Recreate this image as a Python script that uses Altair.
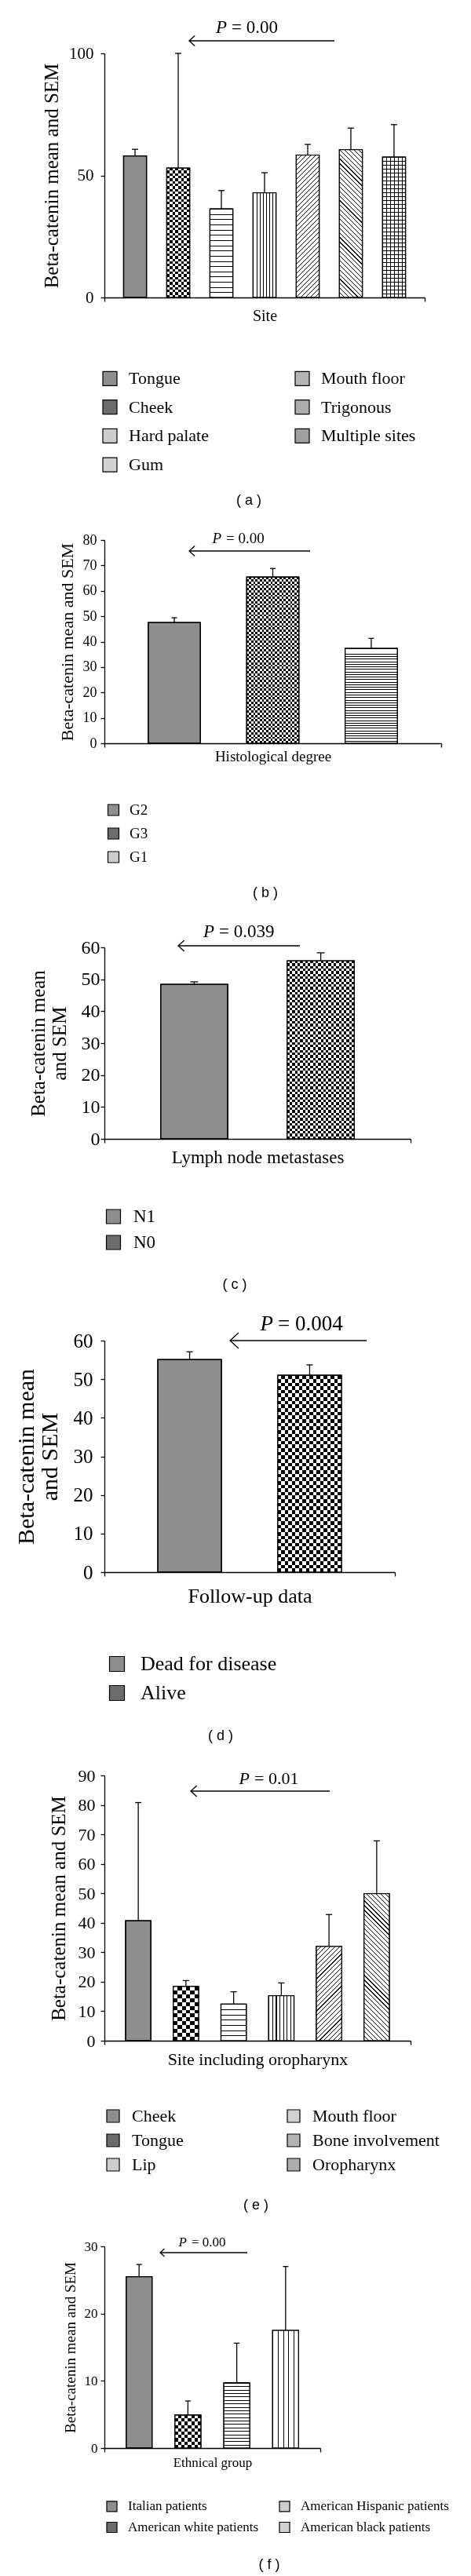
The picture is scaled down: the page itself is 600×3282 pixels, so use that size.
import math
import altair as alt
import pandas as pd

# ---------------- data ----------------
a_cats = ["Tongue", "Cheek", "Hard palate", "Gum", "Mouth floor", "Trigonous", "Multiple sites"]
a_mean = [58.0, 53.0, 36.3, 42.9, 58.3, 60.6, 57.5]
a_sem = [2.7, 47.0, 7.5, 8.2, 4.4, 8.8, 13.3]

b_cats = ["G2", "G3", "G1"]
b_mean = [47.5, 65.4, 37.3]
b_sem = [1.9, 3.4, 4.0]

c_cats = ["N1", "N0"]
c_mean = [48.4, 55.8]
c_sem = [0.8, 2.5]

d_cats = ["Dead for disease", "Alive"]
d_mean = [55.1, 51.0]
d_sem = [2.0, 2.7]

e_cats = ["Cheek", "Tongue", "Lip", "Mouth floor", "Bone involvement", "Oropharynx"]
e_mean = [40.7, 18.4, 12.4, 15.3, 32.0, 49.9]
e_sem = [40.1, 2.0, 4.2, 4.3, 10.8, 17.9]

f_cats = ["Italian patients", "American white patients", "American Hispanic patients", "American black patients"]
f_mean = [25.5, 4.9, 9.7, 17.5]
f_sem = [1.8, 2.1, 5.9, 9.5]

p_values = ["0.00", "0.00", "0.039", "0.004", "0.01", "0.00"]
x_titles = ["Site", "Histological degree", "Lymph node metastases", "Follow-up data",
            "Site including oropharynx", "Ethnical group"]
y_title = "Beta-catenin mean and SEM"
y_title_2 = ["Beta-catenin mean", "and SEM"]
y_ticks = [[0, 50, 100], [0, 10, 20, 30, 40, 50, 60, 70, 80], [0, 10, 20, 30, 40, 50, 60],
           [0, 10, 20, 30, 40, 50, 60], [0, 10, 20, 30, 40, 50, 60, 70, 80, 90], [0, 10, 20, 30]]
captions = ["( a )", "( b )", "( c )", "( d )", "( e )", "( f )"]

# ---------------- styles / layout (pixels) ----------------
SERIF = "Liberation Serif"
SANS = "Liberation Sans"
LW = 1.3
PAD = 0.71      # outer padding, in category steps
HW = 0.265      # half bar width, in category steps
FILLS = {"fine": "#8e8e8e", "coarse": "#6c6c6c", "hline": "#cdcdcd", "vline": "#d2d2d2",
         "diag1": "#b4b4b4", "diag2": "#acacac", "grid": "#a0a0a0"}
CAPTION_X = 281

cfgs = [
    dict(key="a", cats=a_cats, mean=a_mean, sem=a_sem, ymax=100, yt=y_title,
         pat=["fine", "coarse", "hline", "vline", "diag1", "diag2", "grid"],
         X0=97, Y0=68, W=408, H=311, T=10, B=660,
         tk_fs=21, lb_pad=9, yt_fs=25, yt_pad=9, yt_lh=27, xt_fs=20, xt_pad=8,
         p_fs=23, p_at=(256, 41.7), arrow=(390, 205, 52), head=6.5, cap=4,
         leg=(93, 482), l_fs=22, sym=18, l_off=13, row=34.7, cp=107, cols=2, cap_y=638,
         per=dict(hline=6.7, vline=4.2, diag=4.2, grid=5.0, checker=3.3)),
    dict(key="b", cats=b_cats, mean=b_mean, sem=b_sem, ymax=80, yt=y_title,
         pat=["fine", "coarse", "hline"],
         X0=76, Y0=688, W=429, H=259, T=660, B=1162,
         tk_fs=18, lb_pad=5, yt_fs=22, yt_pad=7.4, yt_lh=24, xt_fs=19, xt_pad=2,
         p_fs=19, p_at=(228, 692), arrow=(338, 184, 702), head=6.5, cap=3.5,
         leg=(78, 1032), l_fs=19, sym=14, l_off=11, row=29, cp=20, cols=1, cap_y=1138,
         per=dict(hline=3.3, vline=4.0, diag=4.2, grid=5.0, checker=2.8)),
    dict(key="c", cats=c_cats, mean=c_mean, sem=c_sem, ymax=60, yt=y_title_2,
         pat=["fine", "coarse"],
         X0=115, Y0=1207, W=390, H=244, T=1162, B=1660,
         tk_fs=24, lb_pad=1, yt_fs=25, yt_pad=14.7, yt_lh=27, xt_fs=23, xt_pad=7,
         p_fs=23, p_at=(258, 1194), arrow=(364, 209, 1205), head=7, cap=5,
         leg=(115, 1550), l_fs=23, sym=18, l_off=14, row=32, cp=20, cols=1, cap_y=1637,
         per=dict(hline=4.0, vline=4.0, diag=4.2, grid=5.0, checker=3.3)),
    dict(key="d", cats=d_cats, mean=d_mean, sem=d_sem, ymax=60, yt=y_title_2,
         pat=["fine", "coarse"],
         X0=133, Y0=1708, W=370, H=295, T=1660, B=2236,
         tk_fs=25, lb_pad=10, yt_fs=30, yt_pad=14.7, yt_lh=30, xt_fs=26, xt_pad=12,
         p_fs=27, p_at=(351, 1695), arrow=(467, 293, 1708), head=10, cap=4,
         leg=(136, 2120), l_fs=26, sym=19, l_off=17, row=37, cp=20, cols=1, cap_y=2212,
         per=dict(hline=4.0, vline=4.0, diag=4.2, grid=5.0, checker=4.6)),
    dict(key="e", cats=e_cats, mean=e_mean, sem=e_sem, ymax=90, yt=y_title,
         pat=["fine", "coarse", "hline", "vline", "diag1", "diag2"],
         X0=88, Y0=2262, W=390, H=338, T=2236, B=2834,
         tk_fs=22, lb_pad=7, yt_fs=25, yt_pad=11.6, yt_lh=27, xt_fs=22, xt_pad=8,
         p_fs=22, p_at=(276, 2273), arrow=(375, 198, 2282), head=7, cap=4,
         leg=(88, 2696), l_fs=22, sym=16, l_off=13, row=31, cp=129, cols=2, cap_y=2810,
         per=dict(hline=6.4, vline=4.4, diag=4.2, grid=5.0, checker=5.2)),
    dict(key="f", cats=f_cats, mean=f_mean, sem=f_sem, ymax=30, yt=y_title,
         pat=["fine", "coarse", "hline", "vline"],
         X0=71, Y0=2862, W=275, H=257, T=2834, B=3280,
         tk_fs=17, lb_pad=4, yt_fs=19, yt_pad=8, yt_lh=21, xt_fs=17, xt_pad=5,
         p_fs=17, p_at=(179, 2862), arrow=(253, 142, 2870), head=5, cap=3.5,
         leg=(72, 3193), l_fs=17, sym=13, l_off=12, row=25, cp=23, cols=2, cap_y=3268,
         per=dict(hline=4.3, vline=6.5, diag=4.2, grid=5.0, checker=4.3)),
]


def stripe_stops(n, frac, dark="black", light="white"):
    stops = []
    n = max(1, int(n))
    for k in range(n):
        a = round(k / n, 5)
        b = round((k + frac) / n, 5)
        e = round((k + 1) / n, 5)
        stops += [{"offset": a, "color": dark}, {"offset": b, "color": dark},
                  {"offset": b, "color": light}, {"offset": e, "color": light}]
    return stops


def textures(kind, w, h, per):
    """list of (gradient fill, blend) layers that imitate the hatch pattern"""
    out = []
    if kind == "hline":
        p = per["hline"]
        out.append(({"gradient": "linear", "x1": 0, "y1": 0, "x2": 0, "y2": 1,
                     "stops": stripe_stops(round(h / p), 1.0 / p)}, None))
    elif kind == "vline":
        p = per["vline"]
        out.append(({"gradient": "linear", "x1": 0, "y1": 0, "x2": 1, "y2": 0,
                     "stops": stripe_stops(round(w / p), 1.0 / p)}, None))
    elif kind in ("diag1", "diag2"):
        p = per["diag"]
        s = (w + h) / (w * w + h * h)
        n = round((w + h) / (math.sqrt(2) * p))
        if kind == "diag1":
            g = {"gradient": "linear", "x1": 0, "y1": 0, "x2": round(w * s, 5), "y2": round(h * s, 5)}
        else:
            g = {"gradient": "linear", "x1": 0, "y1": 1, "x2": round(w * s, 5), "y2": round(1 - h * s, 5)}
        g["stops"] = stripe_stops(n, 0.85 / p)
        out.append((g, None))
    elif kind == "grid":
        p = per["grid"]
        out.append(({"gradient": "linear", "x1": 0, "y1": 0, "x2": 1, "y2": 0,
                     "stops": stripe_stops(round(w / p), 1.0 / p)}, None))
        out.append(({"gradient": "linear", "x1": 0, "y1": 0, "x2": 0, "y2": 1,
                     "stops": stripe_stops(round(h / p), 1.0 / p, light="rgba(0,0,0,0)")}, None))
    elif kind == "coarse":
        s = per["checker"]
        out.append(({"gradient": "linear", "x1": 0, "y1": 0, "x2": 0, "y2": 1,
                     "stops": stripe_stops(round(h / (2 * s)), 0.5)}, None))
        out.append(({"gradient": "linear", "x1": 0, "y1": 0, "x2": 1, "y2": 0,
                     "stops": stripe_stops(round(w / (2 * s)), 0.5, dark="white", light="black")},
                    "difference"))
    return out


def make_panel(i, c):
    n = len(c["cats"])
    fld = "cat_" + c["key"]
    df = pd.DataFrame({fld: c["cats"], "mean": c["mean"], "sem": c["sem"], "idx": list(range(n))})
    lo, hi = -PAD, n - 1 + PAD
    step = c["W"] / (hi - lo)

    def xv(px):
        return lo + (px - c["X0"]) / c["W"] * (hi - lo)

    def yv(py):
        return c["ymax"] * (c["Y0"] + c["H"] - py) / c["H"]

    xs = alt.Scale(domain=[lo, hi], nice=False, zero=False)
    ys = alt.Scale(domain=[0, c["ymax"]], nice=False, zero=False)
    xaxis = alt.Axis(values=[lo, hi], labels=False, tickSize=5, tickWidth=LW, tickColor="black",
                     domainColor="black", domainWidth=LW, grid=False, title=x_titles[i],
                     titleFont=SERIF, titleFontSize=c["xt_fs"], titleFontWeight="normal",
                     titleColor="black", titlePadding=c["xt_pad"])
    yaxis = alt.Axis(values=y_ticks[i], tickSize=5, tickWidth=LW, tickColor="black",
                     domainColor="black", domainWidth=LW, grid=False, labelFont=SERIF,
                     labelFontSize=c["tk_fs"], labelColor="black", labelPadding=c["lb_pad"],
                     labelOverlap=False, labelFlush=False, title=c["yt"], titleFont=SERIF,
                     titleFontSize=c["yt_fs"], titleFontWeight="normal", titleColor="black",
                     titlePadding=c["yt_pad"], titleLineHeight=c["yt_lh"])
    X = lambda f: alt.X(f, scale=xs, axis=xaxis)
    Y = lambda f: alt.Y(f, scale=ys, axis=yaxis)
    YB = alt.Y("mean:Q", scale=ys, axis=yaxis, stack=None)

    pat = dict(zip(c["cats"], c["pat"]))
    ent = max(c["sym"], c["l_fs"])
    legend = alt.Legend(orient="none", legendX=c["leg"][0] - c["X0"],
                        legendY=c["leg"][1] - ent / 2 - c["Y0"], title=None,
                        columns=c["cols"], symbolType="square", symbolSize=c["sym"] ** 2,
                        symbolStrokeColor="black", symbolStrokeWidth=1.2, symbolOffset=0,
                        labelFont=SERIF, labelFontSize=c["l_fs"], labelColor="black",
                        labelOffset=c["l_off"], rowPadding=c["row"] - ent,
                        columnPadding=c["cp"], padding=0, labelLimit=500)
    color = alt.Color(f"{fld}:N",
                      scale=alt.Scale(domain=c["cats"], range=[FILLS[pat[k]] for k in c["cats"]]),
                      legend=legend)

    layers = []
    # invisible frame that fixes the panel's extent in the column
    frame = pd.DataFrame({"sx": [xv(12.5)], "sy1": [yv(c["T"] + 0.5)], "sy2": [yv(c["B"] - 0.5)]})
    layers.append(alt.Chart(frame).mark_rule(opacity=0, strokeWidth=1).encode(
        x=X("sx:Q"), y=Y("sy1:Q"), y2="sy2:Q"))

    bar_calc = dict(bx1=f"datum.idx - {HW}", bx2=f"datum.idx + {HW}")
    layers.append(alt.Chart(df).transform_calculate(**bar_calc).mark_bar(
        stroke="black", strokeWidth=LW, opacity=1).encode(
        x=X("bx1:Q"), x2="bx2:Q", y=YB, y2=alt.datum(0), color=color))

    # hatch textures for the patterned bars
    bw = 2 * HW * step
    for k, cat in enumerate(c["cats"]):
        bh = c["mean"][k] / c["ymax"] * c["H"]
        for g, blend in textures(pat[cat], bw, bh, c["per"]):
            kw = dict(fill=g, strokeWidth=0, opacity=1)
            if blend:
                kw["blend"] = blend
            layers.append(alt.Chart(df).transform_filter(f"datum.idx == {k}").transform_calculate(
                **bar_calc).mark_bar(**kw).encode(x=X("bx1:Q"), x2="bx2:Q", y=YB, y2=alt.datum(0)))

    # bar outlines on top of the textures
    layers.append(alt.Chart(df).transform_calculate(**bar_calc).mark_bar(
        fillOpacity=0, stroke="black", strokeWidth=LW).encode(
        x=X("bx1:Q"), x2="bx2:Q", y=YB, y2=alt.datum(0)))

    layers.append(alt.Chart(df).transform_calculate(up="datum.mean + datum.sem").mark_rule(
        color="black", strokeWidth=LW).encode(x=X("idx:Q"), y=Y("mean:Q"), y2="up:Q"))
    capw = c["cap"] / step
    layers.append(alt.Chart(df).transform_calculate(
        up="datum.mean + datum.sem", c1=f"datum.idx - {capw}", c2=f"datum.idx + {capw}"
    ).mark_rule(color="black", strokeWidth=LW).encode(x=X("c1:Q"), x2="c2:Q", y=Y("up:Q")))

    ann = pd.DataFrame({"ax0": [xv(c["arrow"][0])], "ax1": [xv(c["arrow"][1])],
                        "ay": [yv(c["arrow"][2])], "px": [xv(c["p_at"][0])],
                        "py": [yv(c["p_at"][1])], "pl": ["= " + p_values[i]],
                        "cx": [xv(CAPTION_X)], "cy": [yv(c["cap_y"])], "ct": [captions[i]]})
    layers.append(alt.Chart(ann).mark_rule(color="black", strokeWidth=LW).encode(
        x=X("ax0:Q"), x2="ax1:Q", y=Y("ay:Q")))
    layers.append(alt.Chart(ann).mark_point(shape="M1.1,-1L0,0L1.1,1", filled=False, color="black",
                                            strokeWidth=LW, size=(2 * c["head"]) ** 2,
                                            opacity=1).encode(x=X("ax1:Q"), y=Y("ay:Q")))
    layers.append(alt.Chart(ann).mark_text(text="P", font=SERIF, fontStyle="italic",
                                           fontSize=c["p_fs"], align="right", baseline="alphabetic",
                                           dx=-3, color="black").encode(x=X("px:Q"), y=Y("py:Q")))
    layers.append(alt.Chart(ann).mark_text(font=SERIF, fontSize=c["p_fs"], align="left",
                                           baseline="alphabetic", dx=3, color="black").encode(
        x=X("px:Q"), y=Y("py:Q"), text="pl:N"))
    layers.append(alt.Chart(ann).mark_text(font=SANS, fontSize=18, align="center",
                                           baseline="middle", color="black").encode(
        x=X("cx:Q"), y=Y("cy:Q"), text="ct:N"))
    return alt.layer(*layers).properties(width=c["W"], height=c["H"])


panels = [make_panel(i, c) for i, c in enumerate(cfgs)]

chart = alt.concat(*panels, columns=1, spacing=0, align="none").resolve_scale(
    color="independent"
).properties(
    padding={"left": 4, "top": 2, "right": 0, "bottom": 0}
).configure_view(strokeWidth=0)

chart.save("out.html", embed_options={"renderer": "svg", "actions": False})
